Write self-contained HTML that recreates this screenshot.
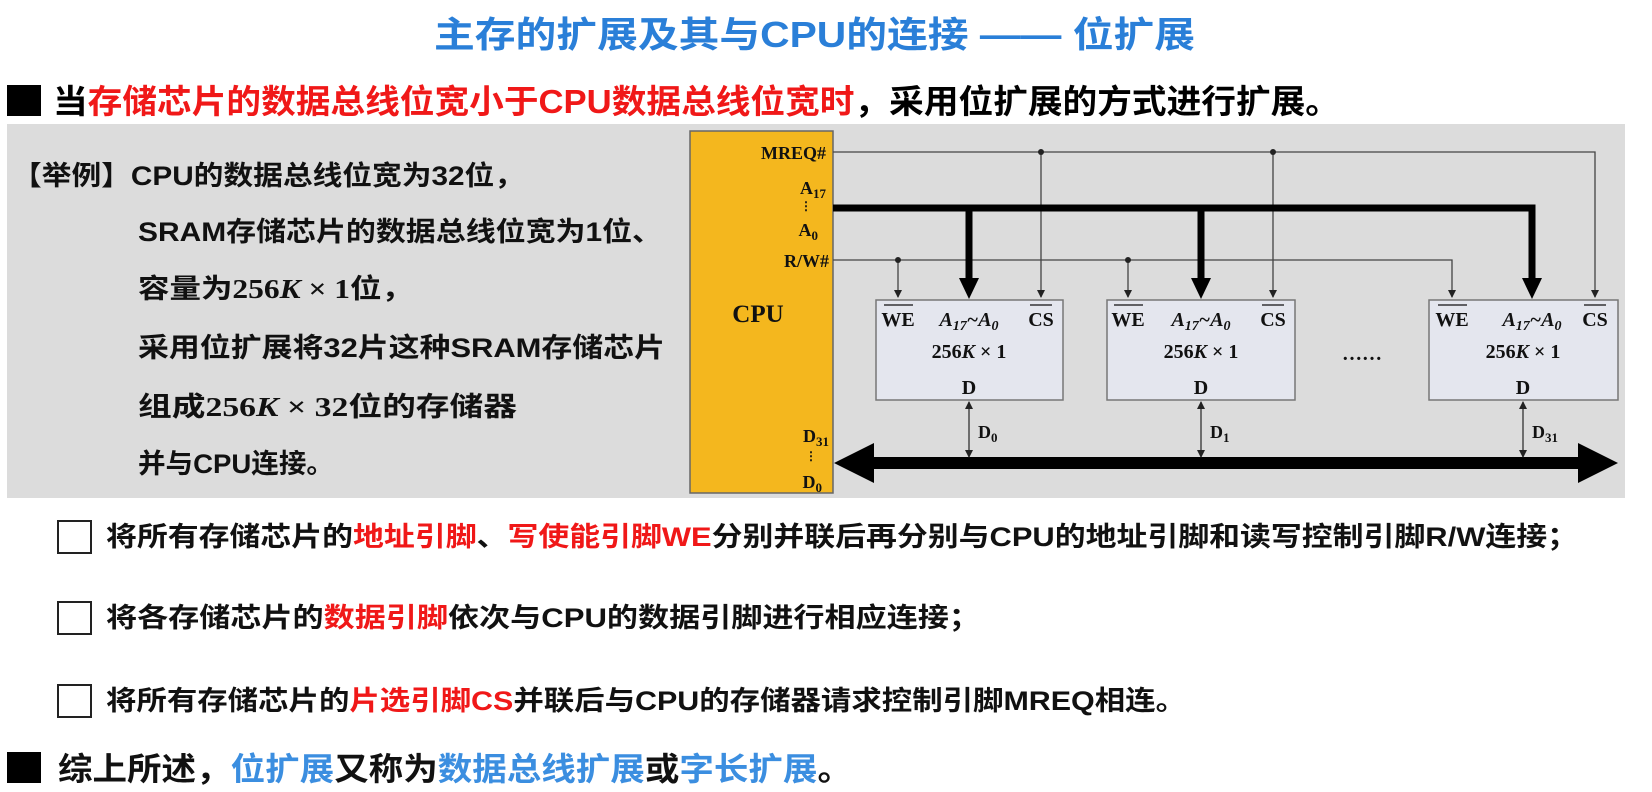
<!DOCTYPE html>
<html><head><meta charset="utf-8"><style>
html,body{margin:0;padding:0;background:#fff;width:1652px;height:792px;overflow:hidden}
svg{display:block}
.cj{font-family:"Liberation Sans","Noto Sans CJK SC",sans-serif;font-weight:bold}
.sf{font-family:"Liberation Serif","DejaVu Serif",serif;font-weight:bold}
</style></head><body>
<svg width="1652" height="792" viewBox="0 0 1652 792" xmlns="http://www.w3.org/2000/svg">
<defs>
<marker id="a" markerWidth="8" markerHeight="8" refX="7" refY="4" orient="auto" markerUnits="userSpaceOnUse"><path d="M0,0 L8,4 L0,8 z" fill="#222"/></marker>
<marker id="b" markerWidth="8" markerHeight="8" refX="1" refY="4" orient="auto" markerUnits="userSpaceOnUse"><path d="M8,0 L0,4 L8,8 z" fill="#222"/></marker>
</defs>
<text class="cj" x="434" y="47" font-size="36" fill="#2a7fd8" textLength="761" lengthAdjust="spacingAndGlyphs">主存的扩展及其与CPU的连接 —— 位扩展</text>
<rect x="7" y="85" width="34" height="31" fill="#000"/>
<text class="cj" x="53" y="113" font-size="33" fill="#000" textLength="1287" lengthAdjust="spacingAndGlyphs">当<tspan fill="#f01818">存储芯片的数据总线位宽小于CPU数据总线位宽时</tspan>，采用位扩展的方式进行扩展。</text>
<rect x="7" y="124" width="1618" height="374" fill="#dcdcdc"/>
<g class="cj" font-size="27" fill="#111">
<text x="12" y="185" textLength="512" lengthAdjust="spacingAndGlyphs">【举例】CPU的数据总线位宽为32位，</text>
<text x="138" y="241" textLength="524" lengthAdjust="spacingAndGlyphs">SRAM存储芯片的数据总线位宽为1位、</text>
<text x="138" y="298" textLength="275" lengthAdjust="spacingAndGlyphs">容量为<tspan class="sf">256<tspan font-style="italic">K</tspan> × 1</tspan>位，</text>
<text x="138" y="357" textLength="527" lengthAdjust="spacingAndGlyphs">采用位扩展将32片这种SRAM存储芯片</text>
<text x="138" y="416" textLength="379" lengthAdjust="spacingAndGlyphs">组成<tspan class="sf">256<tspan font-style="italic">K</tspan> × 32</tspan>位的存储器</text>
<text x="138" y="473" textLength="196" lengthAdjust="spacingAndGlyphs">并与CPU连接。</text>
</g>
<rect x="690" y="131" width="143" height="362" fill="#f4b71e" stroke="#666" stroke-width="1.5"/>
<g class="sf" font-size="18" fill="#111" text-anchor="end">
<text x="826" y="159">MREQ#</text>
<text x="826" y="194">A<tspan font-size="13" dy="4">17</tspan></text>
<text x="812" y="210" font-size="12">⋮</text>
<text x="818" y="236">A<tspan font-size="13" dy="4">0</tspan></text>
<text x="829" y="267">R/W#</text>
<text x="829" y="442">D<tspan font-size="13" dy="4">31</tspan></text>
<text x="817" y="460" font-size="12">⋮</text>
<text x="822" y="488">D<tspan font-size="13" dy="4">0</tspan></text>
</g>
<text class="sf" x="758" y="322" font-size="25" text-anchor="middle" fill="#111">CPU</text>
<g stroke="#444" stroke-width="1.3" fill="none">
<polyline points="833,152 1595,152 1595,297" marker-end="url(#a)"/>
<line x1="1041" y1="152" x2="1041" y2="297" marker-end="url(#a)"/>
<line x1="1273" y1="152" x2="1273" y2="297" marker-end="url(#a)"/>
<polyline points="833,260 1452,260 1452,297" marker-end="url(#a)"/>
<line x1="898" y1="260" x2="898" y2="297" marker-end="url(#a)"/>
<line x1="1128" y1="260" x2="1128" y2="297" marker-end="url(#a)"/>
</g>
<g fill="#222"><circle cx="1041" cy="152" r="3"/><circle cx="1273" cy="152" r="3"/><circle cx="898" cy="260" r="3"/><circle cx="1128" cy="260" r="3"/></g>
<polyline points="833,208 1532,208 1532,278" fill="none" stroke="#000" stroke-width="7"/>
<line x1="969" y1="208" x2="969" y2="278" stroke="#000" stroke-width="7"/>
<line x1="1201" y1="208" x2="1201" y2="278" stroke="#000" stroke-width="7"/>
<g fill="#000">
<path d="M959,278 L979,278 L969,299 z"/>
<path d="M1191,278 L1211,278 L1201,299 z"/>
<path d="M1522,278 L1542,278 L1532,299 z"/>
</g>
<g fill="#e4e6ee" stroke="#777" stroke-width="1.5">
<rect x="876" y="300" width="187" height="100"/>
<rect x="1107" y="300" width="188" height="100"/>
<rect x="1429" y="300" width="189" height="100"/>
</g>
<g class="sf" font-size="20" fill="#111" text-anchor="middle">
<g>
<text x="898" y="326">WE</text><line x1="884" y1="305" x2="913" y2="305" stroke="#111" stroke-width="1.3"/>
<text x="969" y="326" font-style="italic">A<tspan font-size="14" dy="4">17</tspan><tspan dy="-4">~A</tspan><tspan font-size="14" dy="4">0</tspan></text>
<text x="1041" y="326">CS</text><line x1="1030" y1="305" x2="1052" y2="305" stroke="#111" stroke-width="1.3"/>
<text x="969" y="358">256<tspan font-style="italic">K</tspan> × 1</text>
<text x="969" y="394">D</text>
</g>
<g>
<text x="1128" y="326">WE</text><line x1="1114" y1="305" x2="1143" y2="305" stroke="#111" stroke-width="1.3"/>
<text x="1201" y="326" font-style="italic">A<tspan font-size="14" dy="4">17</tspan><tspan dy="-4">~A</tspan><tspan font-size="14" dy="4">0</tspan></text>
<text x="1273" y="326">CS</text><line x1="1262" y1="305" x2="1284" y2="305" stroke="#111" stroke-width="1.3"/>
<text x="1201" y="358">256<tspan font-style="italic">K</tspan> × 1</text>
<text x="1201" y="394">D</text>
</g>
<g>
<text x="1452" y="326">WE</text><line x1="1438" y1="305" x2="1467" y2="305" stroke="#111" stroke-width="1.3"/>
<text x="1532" y="326" font-style="italic">A<tspan font-size="14" dy="4">17</tspan><tspan dy="-4">~A</tspan><tspan font-size="14" dy="4">0</tspan></text>
<text x="1595" y="326">CS</text><line x1="1584" y1="305" x2="1606" y2="305" stroke="#111" stroke-width="1.3"/>
<text x="1523" y="358">256<tspan font-style="italic">K</tspan> × 1</text>
<text x="1523" y="394">D</text>
</g>
<text x="1362" y="360">……</text>
</g>
<rect x="872" y="457" width="708" height="12" fill="#000"/>
<path d="M834,463 L874,443 L874,483 z" fill="#000"/>
<path d="M1618,463 L1578,443 L1578,483 z" fill="#000"/>
<g stroke="#333" stroke-width="1.3">
<line x1="969" y1="402" x2="969" y2="457" marker-start="url(#b)" marker-end="url(#a)"/>
<line x1="1201" y1="402" x2="1201" y2="457" marker-start="url(#b)" marker-end="url(#a)"/>
<line x1="1523" y1="402" x2="1523" y2="457" marker-start="url(#b)" marker-end="url(#a)"/>
</g>
<g class="sf" font-size="18" fill="#111">
<text x="978" y="438">D<tspan font-size="13" dy="4">0</tspan></text>
<text x="1210" y="438">D<tspan font-size="13" dy="4">1</tspan></text>
<text x="1532" y="438">D<tspan font-size="13" dy="4">31</tspan></text>
</g>
<g fill="#fff" stroke="#222" stroke-width="2">
<rect x="58" y="521" width="33" height="32"/>
<rect x="58" y="602" width="33" height="32"/>
<rect x="58" y="685" width="33" height="32"/>
</g>
<g class="cj" font-size="27" fill="#111">
<text x="106" y="546" textLength="1472" lengthAdjust="spacingAndGlyphs">将所有存储芯片的<tspan fill="#f01818">地址引脚</tspan>、<tspan fill="#f01818">写使能引脚WE</tspan>分别并联后再分别与CPU的地址引脚和读写控制引脚R/W连接；</text>
<text x="106" y="627" textLength="874" lengthAdjust="spacingAndGlyphs">将各存储芯片的<tspan fill="#f01818">数据引脚</tspan>依次与CPU的数据引脚进行相应连接；</text>
<text x="106" y="710" textLength="1080" lengthAdjust="spacingAndGlyphs">将所有存储芯片的<tspan fill="#f01818">片选引脚CS</tspan>并联后与CPU的存储器请求控制引脚MREQ相连。</text>
</g>
<rect x="7" y="752" width="34" height="31" fill="#000"/>
<text class="cj" x="58" y="780" font-size="32" fill="#111" textLength="794" lengthAdjust="spacingAndGlyphs">综上所述，<tspan fill="#3b8ee0">位扩展</tspan>又称为<tspan fill="#3b8ee0">数据总线扩展</tspan>或<tspan fill="#3b8ee0">字长扩展</tspan>。</text>
</svg>
</body></html>
